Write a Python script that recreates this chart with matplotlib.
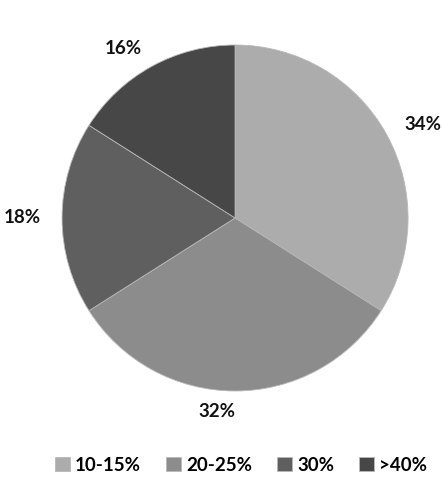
import matplotlib
matplotlib.use("Agg")
import matplotlib.pyplot as plt

categories = ["10-15%", "20-25%", "30%", ">40%"]
values = [34, 32, 18, 16]
labels = ["34%", "32%", "18%", "16%"]
colors = ["#acacac", "#8c8c8c", "#5f5f5f", "#474747"]

plt.rcParams['font.family'] = ['Lato', 'DejaVu Sans']

fig = plt.figure(figsize=(4.42, 4.88), dpi=100)
ax = fig.add_axes([0.1403, 0.1988, 0.783, 0.709])
wedges, texts = ax.pie(values, labels=labels, colors=colors, startangle=90,
                       counterclock=False, labeldistance=1.12,
                       wedgeprops=dict(edgecolor="#b8b8b8", linewidth=0.6),
                       textprops=dict(fontsize=13.5, fontweight="bold", color="#111111"))
ax.set_aspect("equal")
ax.set_xlim(-1, 1)
ax.set_ylim(-1, 1)

fig.legend(wedges, categories, loc="center", bbox_to_anchor=(0.545, 0.047), ncol=4,
           frameon=False, handlelength=0.8, handleheight=0.8, handletextpad=0.3,
           columnspacing=1.3, prop=dict(size=13.5, weight="bold"))

fig.savefig("out.png", dpi=100)
